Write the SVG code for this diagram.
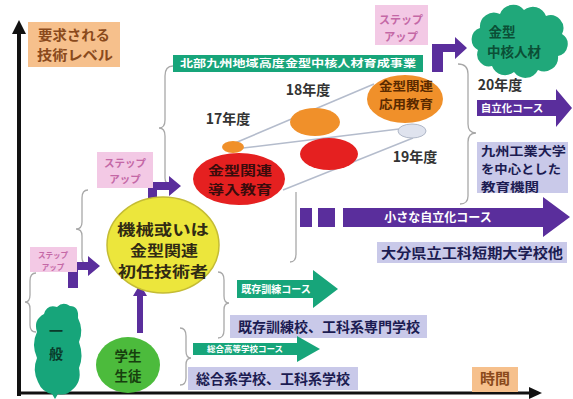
<svg xmlns="http://www.w3.org/2000/svg" width="573" height="399" viewBox="0 0 573 399">
<style>
text{font-family:"Noto Sans CJK JP","Noto Sans",sans-serif;font-weight:bold;text-anchor:middle}
.brace{fill:none;stroke:#a8a8a8;stroke-width:1.3}
.cl{stroke:#b4bccc;stroke-width:1.5}
.lav{fill:#c9c9e9}
.lavt{fill:#1c1c52;font-size:14px}
.org{fill:#f6c08c}
.orgt{fill:#8a4a1c;font-size:13.5px}
.pink{fill:#f3c9e5}
.pinkt{fill:#c468a6}
.grn{fill:#17a57a}
.pur{fill:#5a2e9c}
.wt{fill:#ffffff}
.yr{fill:#333333;font-size:14px}
</style>
<rect width="573" height="399" fill="#ffffff"/>

<g id="connectors">
  <!-- axes -->
  <line x1="19" y1="396" x2="19" y2="30" stroke="#111" stroke-width="4"/>
  <polygon points="19,20 12,34 26,34" fill="#111"/>
  <line x1="17" y1="393" x2="532" y2="393" stroke="#111" stroke-width="3"/>
  <polygon points="542,393 529,387 529,399" fill="#111"/>
  <!-- braces -->
  <path class="brace" d="M173,66 Q165,66 165,76 L165,120 Q165,128 159,128 Q165,128 165,136 L165,178 Q165,184 170,184"/>
  <path class="brace" d="M88,190 Q82,190 82,198 L82,222 Q82,229 76,229 Q82,229 82,236 L82,258 Q82,264 88,264"/>
  <path class="brace" d="M36,273 Q30,273 30,281 L30,295 Q30,302 25,302 Q30,302 30,309 L30,325 Q30,332 36,332"/>
  <path class="brace" d="M218,272 Q224,272 224,280 L224,296 Q224,303 229,303 Q224,303 224,310 L224,330 Q224,338 218,338"/>
  <path class="brace" d="M180,328 Q186,328 186,336 L186,351 Q186,358 191,358 Q186,358 186,365 L186,378 Q186,385 180,385"/>
  <path class="brace" d="M458,64 Q468,64 468,74 L468,124 Q468,133 476,133 Q468,133 468,142 L468,196 Q468,204 460,204"/>
  <path class="brace" d="M296,192 L296,254 Q296,262 290,262"/>
  <!-- cluster lines -->
  <line class="cl" x1="235" y1="143" x2="374" y2="84"/>
  <line class="cl" x1="243" y1="148" x2="399" y2="129"/>
  <line class="cl" x1="283" y1="190" x2="413" y2="138"/>
  <!-- purple arrows -->
  <path class="pur" d="M432,72 L432,44 L455,44 L455,37 L467,48 L455,59 L455,52 L443,52 L443,72 Z"/>
  <path class="pur" d="M148,207 L148,182 L169,182 L169,176 L181,186 L169,196 L169,190 L157,190 L157,207 Z"/>
  <path class="pur" d="M68,288 L68,262 L88,262 L88,256 L100,266 L88,276 L88,270 L78,270 L78,288 Z"/>
  <path class="pur" d="M137,333 L137,296 L133,296 L140,284 L147,296 L143,296 L143,333 Z"/>
</g>

<g id="axis-y-label">
  <rect class="org" x="28" y="22" width="92" height="45"/>
  <text class="orgt" x="74" y="40" textLength="72" lengthAdjust="spacingAndGlyphs">要求される</text>
  <text class="orgt" x="75" y="60" textLength="76" lengthAdjust="spacingAndGlyphs">技術レベル</text>
</g>

<g id="axis-x-label">
  <rect class="org" x="472" y="367" width="46" height="25"/>
  <text class="orgt" x="495" y="384" style="font-size:15px">時間</text>
</g>

<g id="banner">
  <rect class="grn" x="173" y="55" width="250" height="17"/>
  <text class="wt" x="298" y="67" font-size="10.5" textLength="236" lengthAdjust="spacingAndGlyphs">北部九州地域高度金型中核人材育成事業</text>
</g>

<g id="stepup-top">
  <rect class="pink" x="375" y="5" width="53" height="40"/>
  <text class="pinkt" x="401" y="24" font-size="11.5" textLength="44" lengthAdjust="spacingAndGlyphs">ステップ</text>
  <text class="pinkt" x="401" y="41" font-size="11.5" textLength="34" lengthAdjust="spacingAndGlyphs">アップ</text>
</g>

<g id="cloud">
  <path fill="#20a87a" d="M478,50 A12,12 0 0 1 480,28 A14,14 0 0 1 500,14 A14,14 0 0 1 524,10 A14,14 0 0 1 546,16 A13,13 0 0 1 562,34 A12,12 0 0 1 558,56 A14,14 0 0 1 538,70 A14,14 0 0 1 514,72 A14,14 0 0 1 492,66 A12,12 0 0 1 478,50 Z"/>
  <text x="502" y="37" font-size="13.5" fill="#0b4f36">金型</text>
  <text x="514" y="57" font-size="13.5" fill="#0b4f36">中核人材</text>
</g>

<g id="year20">
  <text class="yr" x="500" y="90">20年度</text>
</g>

<g id="jiritsu-course">
  <polygon class="pur" points="477,100 556,100 556,89 572,108 556,127 556,116 477,116"/>
  <text class="wt" x="512" y="112" font-size="10.5">自立化コース</text>
</g>

<g id="year18"><text class="yr" x="308" y="95">18年度</text></g>
<g id="year17"><text class="yr" x="228" y="124">17年度</text></g>
<g id="year19"><text class="yr" x="415" y="162">19年度</text></g>

<g id="ellipse-small-orange"><ellipse cx="233" cy="147" rx="11" ry="6" fill="#f0902a"/></g>
<g id="ellipse-mid-orange"><ellipse cx="315" cy="122" rx="25" ry="14" fill="#f0902a"/></g>
<g id="ellipse-mid-red"><ellipse cx="329" cy="154" rx="29" ry="16" fill="#e52020"/></g>
<g id="ellipse-pale"><ellipse cx="412" cy="131" rx="14" ry="7" fill="#dfe3ee" stroke="#b0b8c8"/></g>

<g id="intro-edu">
  <ellipse cx="239" cy="179" rx="46" ry="26" fill="#e52020"/>
  <text x="240" y="175" font-size="13" fill="#3a0c0c" textLength="64" lengthAdjust="spacingAndGlyphs">金型関連</text>
  <text x="240" y="194" font-size="13" fill="#3a0c0c" textLength="64" lengthAdjust="spacingAndGlyphs">導入教育</text>
</g>

<g id="applied-edu">
  <ellipse cx="405" cy="99" rx="38" ry="24" fill="#f0902a"/>
  <text x="406" y="91" font-size="12.4" fill="#5a2a00" textLength="54" lengthAdjust="spacingAndGlyphs">金型関連</text>
  <text x="406" y="109" font-size="12.4" fill="#5a2a00" textLength="54" lengthAdjust="spacingAndGlyphs">応用教育</text>
</g>

<g id="kyutech">
  <rect class="lav" x="477" y="142" width="91" height="51"/>
  <text class="lavt" x="481" y="156" style="text-anchor:start;font-size:12.4px" textLength="85" lengthAdjust="spacingAndGlyphs">九州工業大学</text>
  <text class="lavt" x="481" y="174" style="text-anchor:start;font-size:12.4px" textLength="80" lengthAdjust="spacingAndGlyphs">を中心とした</text>
  <text class="lavt" x="481" y="192" style="text-anchor:start;font-size:12.4px" textLength="58" lengthAdjust="spacingAndGlyphs">教育機関</text>
</g>

<g id="small-jiritsu">
  <rect class="pur" x="300" y="208" width="12" height="19"/>
  <rect class="pur" x="318" y="208" width="17" height="19"/>
  <polygon class="pur" points="343,208 543,208 543,197 570,217 543,237 543,227 343,227"/>
  <text class="wt" x="438" y="222" font-size="12">小さな自立化コース</text>
</g>

<g id="oita">
  <rect class="lav" x="377" y="242" width="190" height="21"/>
  <text class="lavt" x="472" y="258" style="font-size:13.5px" textLength="182" lengthAdjust="spacingAndGlyphs">大分県立工科短期大学校他</text>
</g>

<g id="stepup-mid">
  <rect class="pink" x="97" y="152" width="56" height="36"/>
  <text class="pinkt" x="125" y="167" font-size="10.5">ステップ</text>
  <text class="pinkt" x="125" y="183" font-size="10.5">アップ</text>
</g>

<g id="engineer">
  <ellipse cx="163" cy="245" rx="56" ry="48" fill="#ece63c" stroke="#c4bc34" stroke-width="1.5"/>
  <text x="163" y="235" font-size="14.4" fill="#302a14" textLength="92" lengthAdjust="spacingAndGlyphs">機械或いは</text>
  <text x="164" y="256" font-size="14.4" fill="#302a14" textLength="68" lengthAdjust="spacingAndGlyphs">金型関連</text>
  <text x="163" y="277" font-size="14.4" fill="#302a14" textLength="90" lengthAdjust="spacingAndGlyphs">初任技術者</text>
</g>

<g id="stepup-low">
  <rect class="pink" x="30" y="247" width="47" height="25"/>
  <text class="pinkt" x="53" y="258" font-size="7.5">ステップ</text>
  <text class="pinkt" x="53" y="269.5" font-size="7.5">アップ</text>
</g>

<g id="existing-course">
  <polygon class="grn" points="237,280 313,280 313,270 338,289 313,308 313,298 237,298"/>
  <text class="wt" x="276" y="293" font-size="10">既存訓練コース</text>
</g>

<g id="existing-school">
  <rect class="lav" x="230" y="315" width="197" height="23"/>
  <text class="lavt" x="329" y="332">既存訓練校、工科系専門学校</text>
</g>

<g id="highschool-course">
  <polygon class="grn" points="193,343 297,343 297,336 320,349 297,362 297,355 193,355"/>
  <text class="wt" x="245" y="352" font-size="8.5">総合高等学校コース</text>
</g>

<g id="general-school">
  <rect class="lav" x="188" y="367" width="170" height="23"/>
  <text class="lavt" x="273" y="384" font-size="14.5">総合系学校、工科系学校</text>
</g>

<g id="general">
  <path class="grn" d="M44,314 Q47,304 57,307 Q63,301 70,306 Q79,306 78,318 Q84,330 79,342 Q84,356 79,368 Q82,382 72,390 Q66,396 58,394 L55,399 L52,394 Q42,392 38,382 Q32,370 37,358 Q31,344 37,332 Q33,320 44,314 Z"/>
  <text x="56" y="336" font-size="14" fill="#0a3a2a">一</text>
  <text x="56" y="359" font-size="14" fill="#0a3a2a">般</text>
</g>

<g id="student">
  <ellipse cx="128" cy="365" rx="32" ry="28" fill="#4cbb3c"/>
  <text x="128" y="361" font-size="13.5" fill="#173f0e">学生</text>
  <text x="128" y="381" font-size="13.5" fill="#173f0e">生徒</text>
</g>
</svg>
